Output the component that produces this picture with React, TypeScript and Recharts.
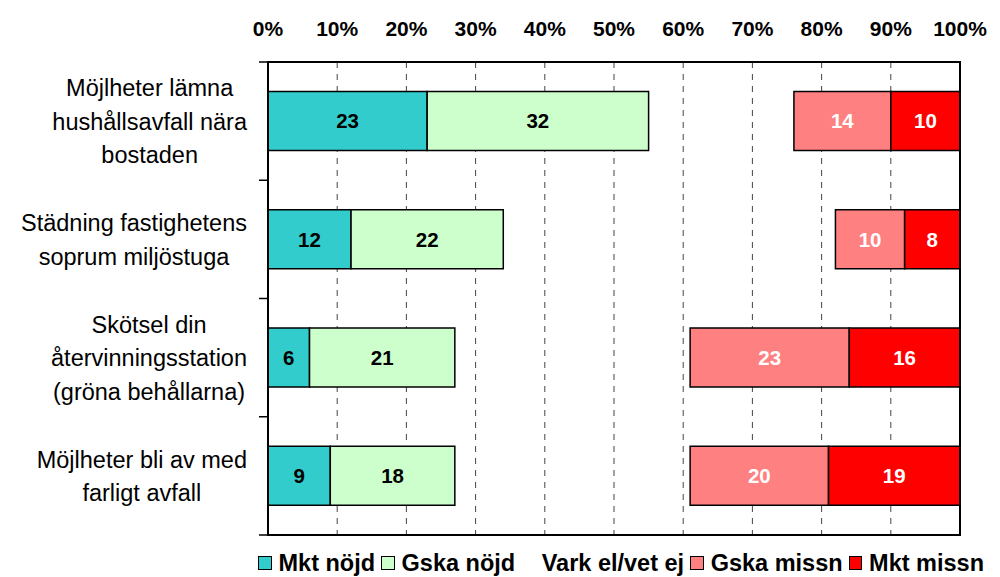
import {
  BarChart,
  Bar,
  XAxis,
  YAxis,
  CartesianGrid,
  LabelList,
} from 'recharts';

const categories = [
  'Möjlheter lämna\nhushållsavfall nära\nbostaden',
  'Städning fastighetens\nsoprum miljöstuga',
  'Skötsel din\nåtervinningsstation\n(gröna behållarna)',
  'Möjlheter bli av med\nfarligt avfall',
];
const mktNojd = [23, 12, 6, 9];
const gskaNojd = [32, 22, 21, 18];
const varkEj = [21, 48, 34, 34];
const gskaMissn = [14, 10, 23, 20];
const mktMissn = [10, 8, 16, 19];
const pctTicks = [0, 10, 20, 30, 40, 50, 60, 70, 80, 90, 100];

const FONT = '"Liberation Sans", Arial, sans-serif';

const W = 1000;
const H = 577;
const M = { top: 32, right: 40, bottom: 42, left: 0 };
const X_AXIS_H = 30;
const Y_AXIS_W = 268;
const PLOT_W = W - M.left - M.right - Y_AXIS_W;
const PLOT_H = H - M.top - M.bottom - X_AXIS_H;
const BAND = PLOT_H / categories.length;

const series = [
  { key: 'mkt', name: 'Mkt nöjd', color: '#33CCCC', label: '#000' },
  { key: 'gskaN', name: 'Gska nöjd', color: '#CCFFCC', label: '#000' },
  { key: 'vark', name: 'Vark el/vet ej', color: 'none', label: null },
  { key: 'gskaM', name: 'Gska missn', color: '#FF8080', label: '#fff' },
  { key: 'mktM', name: 'Mkt missn', color: '#FF0000', label: '#fff' },
];

const data = categories.map((c, i) => ({
  name: c,
  mkt: mktNojd[i],
  gskaN: gskaNojd[i],
  vark: varkEj[i],
  gskaM: gskaMissn[i],
  mktM: mktMissn[i],
}));

let ctx: CanvasRenderingContext2D | null = null;
function measure(s: string, font: string) {
  if (!ctx) ctx = document.createElement('canvas').getContext('2d');
  if (!ctx) return s.length * 11;
  ctx.font = font;
  return ctx.measureText(s).width;
}

const CAT_SIZE = 23.5;

// category label + outward tick marks at the band edges; the first tick
// also draws the plot frame
function CatTick({ x, y, payload, index }: any) {
  const lines = String(payload.value).split('\n');
  const w = Math.max(...lines.map((l) => measure(l, `${CAT_SIZE}px "Liberation Sans"`)));
  const cx = x - w / 2;
  const lh = 33.5;
  const y0 = y - ((lines.length - 1) * lh) / 2;
  const ax = Y_AXIS_W + M.left;
  const first = index === 0;
  const last = index === categories.length - 1;
  const top = y - BAND / 2;
  const bottom = y + BAND / 2;
  return (
    <g>
      <path d={`M${ax - 9},${top}H${ax}`} stroke="#000" strokeWidth={1.5} fill="none" />
      {last && <path d={`M${ax - 9},${bottom}H${ax}`} stroke="#000" strokeWidth={1.5} fill="none" />}
      {first && (
        <rect
          x={ax}
          y={top}
          width={PLOT_W}
          height={PLOT_H}
          fill="none"
          stroke="#000"
          strokeWidth={2}
        />
      )}
      <text textAnchor="middle" fontSize={CAT_SIZE} fontFamily={FONT} fill="#000">
        {lines.map((l, i) => (
          <tspan key={i} x={cx} y={y0 + i * lh} dy="0.36em">
            {l}
          </tspan>
        ))}
      </text>
    </g>
  );
}

function LegendRow() {
  return (
    <div
      style={{
        position: 'absolute',
        left: 258,
        top: 551,
        height: 24,
        lineHeight: '24px',
        display: 'flex',
        alignItems: 'center',
        whiteSpace: 'nowrap',
        fontFamily: FONT,
        fontWeight: 'bold',
        fontSize: 23.5,
        color: '#000',
      }}
    >
      {series.map((s) => (
        <div key={s.key} style={{ display: 'flex', alignItems: 'center', marginRight: 6 }}>
          <span
            style={{
              width: 11.5,
              height: 11.5,
              background: s.color === 'none' ? 'transparent' : s.color,
              border: s.color === 'none' ? '1.5px solid transparent' : '1.5px solid #000',
              marginRight: 7,
              display: 'inline-block',
            }}
          />
          {s.name}
        </div>
      ))}
    </div>
  );
}

export default function App() {
  return (
    <div style={{ position: 'relative', width: W, height: H, overflow: 'hidden' }}>
      <style>{`body{margin:0}`}</style>
      <BarChart
        width={W}
        height={H}
        data={data}
        layout="vertical"
        barCategoryGap="25%"
        margin={M}
      >
        <CartesianGrid
          horizontal={false}
          vertical
          stroke="#444"
          strokeDasharray="6 6"
        />
        <XAxis
          type="number"
          orientation="top"
          domain={[0, 100]}
          ticks={pctTicks}
          tickFormatter={(v) => `${v}%`}
          axisLine={false}
          tickLine={false}
          tickSize={0}
          tickMargin={26}
          height={X_AXIS_H}
          tick={{ fontSize: 21, fontWeight: 'bold', fill: '#000', fontFamily: FONT }}
          interval={0}
        />
        <YAxis
          type="category"
          dataKey="name"
          width={Y_AXIS_W}
          axisLine={false}
          tickLine={false}
          tickSize={0}
          tickMargin={21}
          tick={<CatTick />}
          interval={0}
        />
        {series.map((s) => (
          <Bar
            key={s.key}
            dataKey={s.key}
            name={s.name}
            stackId="a"
            fill={s.color === 'none' ? 'transparent' : s.color}
            stroke={s.color === 'none' ? 'none' : '#000'}
            strokeWidth={1.5}
            isAnimationActive={false}
          >
            {s.label && (
              <LabelList
                dataKey={s.key}
                position="center"
                fill={s.label}
                fontSize={20.5}
                fontWeight="bold"
                fontFamily={FONT}
              />
            )}
          </Bar>
        ))}
      </BarChart>
      <LegendRow />
    </div>
  );
}
